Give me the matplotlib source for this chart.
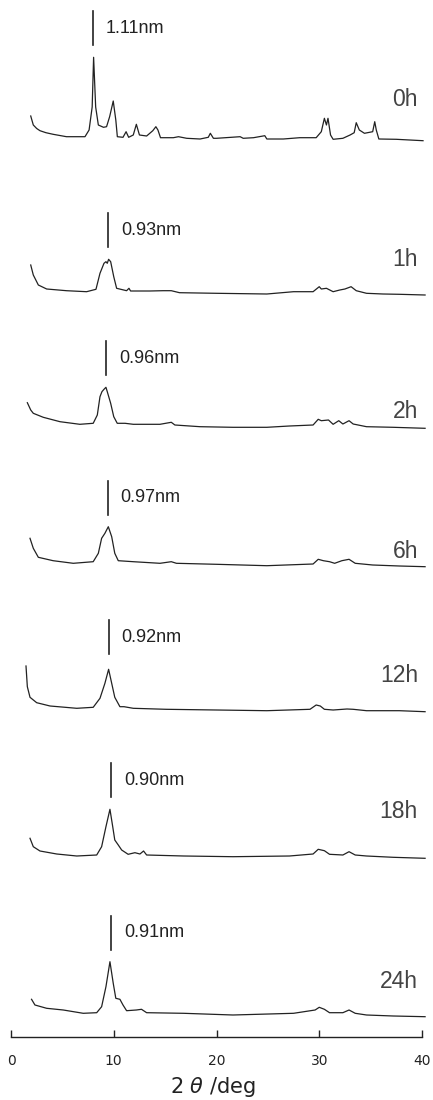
import matplotlib
matplotlib.use("Agg")
import matplotlib.pyplot as plt

# XRD scans: 2theta (deg) and intensity above each trace's baseline (arb.)
times = ["0h", "1h", "2h", "6h", "12h", "18h", "24h"]
d_spacing = ["1.11nm", "0.93nm", "0.96nm", "0.97nm", "0.92nm", "0.90nm", "0.91nm"]
peak_2theta = [8.0, 9.47, 9.24, 9.4, 9.5, 9.73, 9.73]

tt_0h = [1.92, 2.17, 2.5, 2.82, 3.4, 4.1, 5.4, 7.2, 7.6, 7.9, 8.04, 8.24, 8.5, 9.0, 9.3, 9.6,
         9.95, 10.2, 10.35, 10.9, 11.2, 11.45, 11.9, 12.2, 12.5, 13.2, 13.8, 14.1, 14.3,
         14.55, 15.8, 16.3, 17.1, 18.4, 19.2, 19.4, 19.7, 20.0, 22.3, 22.6, 23.6, 24.7,
         24.9, 26.5, 28.1, 28.9, 29.7, 30.2, 30.5, 30.7, 30.85, 31.1, 31.35, 32.3, 33.0,
         33.4, 33.6, 33.9, 34.4, 35.2, 35.4, 35.55, 35.8, 37.5, 38.8, 40.1]
int_0h = [23, 14, 10.5, 8.3, 6.3, 4.7, 2.3, 2.3, 9, 32, 81.7, 32, 14, 11.7, 12.3, 22.3,
          38, 19, 2.3, 1.7, 7.3, 1.7, 4, 14.7, 4, 3, 8.3, 12.3, 9,
          1.3, 1.3, 2.3, 0.7, 0, 1.7, 5.7, 0.7, 0.7, 2.3, 0.7, 1.3, 3.3,
          0, 0, 1.3, 1.3, 1.3, 7.3, 20.7, 14, 20.7, 4, -0.3, 0.7, 4,
          6.3, 16.3, 9, 5.7, 7.3, 17.3, 9, 0, -0.3, -1, -1.7]

tt_1h = [1.92, 2.17, 2.66, 3.47, 5.4, 7.36, 8.27, 8.66, 9.05, 9.24, 9.37, 9.5, 9.7, 10.0,
         10.28, 11.25, 11.48, 11.64, 13.5, 14.8, 15.6, 16.4, 20.0, 24.9, 27.5, 29.4, 30.0,
         30.2, 30.7, 31.35, 32.0, 32.5, 33.1, 33.6, 34.6, 36.2, 37.8, 40.3]
int_1h = [27, 17, 7, 3, 1.3, 0.3, 2.7, 18.7, 28.7, 30.3, 28.7, 32.7, 30.3, 15.3,
          3.7, 1.3, 3.7, 1, 1, 1.3, 1.3, -0.7, -1.3, -2, 0.3, 0.3, 5.3,
          3, 3.7, 0.3, 2, 3, 5.3, 1.3, -1.3, -2, -2.3, -3]

tt_2h = [1.59, 1.92, 2.17, 3.14, 4.77, 6.7, 8.0, 8.4, 8.66, 8.85, 9.05, 9.24, 9.37, 9.7,
         10.0, 10.34, 11.1, 11.9, 14.5, 15.6, 15.95, 18.4, 21.6, 24.9, 27.1, 29.4, 29.9,
         30.2, 30.9, 31.35, 31.9, 32.3, 32.9, 33.3, 34.6, 37.2, 40.3]
int_2h = [22.3, 15, 11.7, 7.7, 3.3, 0.7, 1.7, 10, 28.3, 33.3, 35.7, 37.7, 33.3, 21.7,
          8.3, 1.7, 1.7, 0.7, 0.7, 2.7, 0, -1.7, -2.3, -2.3, -1, 0, 5.7,
          4.3, 5, 0.7, 4.3, 1, 4.3, 1, -1.7, -2.3, -3.3]

tt_6h = [1.85, 2.17, 2.66, 4.1, 6.06, 8.0, 8.5, 8.82, 9.14, 9.47, 9.8, 10.1, 10.44, 11.9,
         14.5, 15.6, 16.1, 20.0, 24.9, 29.4, 29.9, 30.4, 31.0, 31.5, 32.2, 32.9, 33.5,
         35.2, 37.8, 40.3]
int_6h = [24.7, 14.7, 5.7, 2.3, -0.3, 1.3, 9.7, 24.7, 29.7, 36.3, 26.3, 9.7, 2.3, 1.3,
          -0.3, 1.3, -0.3, -1.3, -2.7, -1, 3.7, 2.3, 1.3, -0.3, 2.3, 3.7, -0.3,
          -2, -3, -3.7]

tt_12h = [1.46, 1.59, 1.85, 2.5, 3.8, 6.4, 8.0, 8.66, 9.14, 9.5, 9.8, 10.1, 10.6, 11.0,
          11.9, 15.1, 20.0, 24.9, 29.1, 29.7, 30.1, 30.5, 31.35, 32.7, 33.3, 34.6, 37.8, 40.3]
int_12h = [43, 22.3, 11.7, 6.3, 3, 0.7, 1.7, 10.7, 25.7, 39.7, 25.7, 11.7, 2.3, 2.3,
           0.7, -0.3, -1, -1.7, -0.3, 4, 3, -0.3, -1, 0, -0.3, -1.7, -1.7, -2.7]

tt_18h = [1.85, 2.17, 2.82, 4.45, 6.4, 8.34, 8.82, 9.24, 9.63, 9.9, 10.1, 10.44, 10.77,
          11.4, 12.06, 12.55, 12.9, 13.2, 16.8, 21.6, 27.1, 29.4, 29.9, 30.5, 31.0, 32.3,
          32.9, 33.5, 34.6, 37.2, 40.3]
int_18h = [17.7, 9.3, 5, 2, 0, 1, 9.3, 29.3, 46.7, 29.3, 16, 11, 6,
           1.7, 3.3, 2, 5, 1, 0, -0.7, 0, 2, 6.7, 5.3, 1.7, 1,
           4.3, 1, 0, -1.3, -2.3]

tt_24h = [2.0, 2.33, 3.47, 5.09, 7.03, 8.34, 8.82, 9.24, 9.63, 9.95, 10.2, 10.6, 10.9,
          11.25, 12.2, 12.7, 13.2, 16.8, 21.6, 27.5, 29.6, 30.0, 30.5, 31.0, 32.3, 32.9,
          33.5, 34.6, 37.2, 40.3]
int_24h = [13.7, 8, 4.7, 3, -0.3, 0.3, 6.3, 26.3, 51.3, 29.7, 14.7, 13.7, 8,
           2.3, 3, 3.7, 0.3, -0.3, -2, -0.3, 3, 5.7, 3.7, 0.3, 0.3, 3,
           -0.3, -2, -3, -3.7]

scans = [(tt_0h, int_0h), (tt_1h, int_1h), (tt_2h, int_2h), (tt_6h, int_6h),
         (tt_12h, int_12h), (tt_18h, int_18h), (tt_24h, int_24h)]

# layout: vertical offset of each baseline and height of the time label above it
offsets = [898, 745, 612, 474, 328, 181, 24]
label_dy = [39, 33, 13, 11, 34, 44, 31]

W, H = 433, 1100
fig = plt.figure(figsize=(W / 100, H / 100), dpi=100)
ax = fig.add_axes([11 / W, 63 / H, 411 / W, 1037 / H])
ax.set_xlim(0, 40)
ax.set_ylim(0, 1037)

line_col = "#222222"
for (tt, inten), off, t, d, pk, dy in zip(scans, offsets, times, d_spacing, peak_2theta, label_dy):
    ys = [off + v for v in inten]
    ax.plot(tt, ys, color=line_col, lw=0.9, clip_on=False, solid_joinstyle="round")
    # d-spacing marker above the basal reflection
    y0 = off + max(inten) + 12
    y1 = y0 + 34
    ax.plot([pk, pk], [y0, y1], color=line_col, lw=1.2)
    ax.text(pk + 1.25, (y0 + y1) / 2, d, fontsize=13, family="Liberation Sans",
            color="#222222", ha="left", va="center")
    ax.text(39.6, off + dy, t, fontsize=16.5, family="Liberation Sans",
            color="#444444", ha="right", va="center")

for s in ["top", "left", "right"]:
    ax.spines[s].set_visible(False)
ax.spines["bottom"].set_color(line_col)
ax.spines["bottom"].set_linewidth(1.0)
ax.set_yticks([])
ax.set_xticks([0, 10, 20, 30, 40])
ax.tick_params(axis="x", direction="in", length=5, width=1, color=line_col,
               labelsize=10, pad=12, labelcolor="#222222")

fig.text(213 / W, 1 - 1087 / H, "2 $\\theta$ /deg", fontsize=15, color="#222222",
         ha="center", va="center")

fig.savefig("out.png", dpi=100)
